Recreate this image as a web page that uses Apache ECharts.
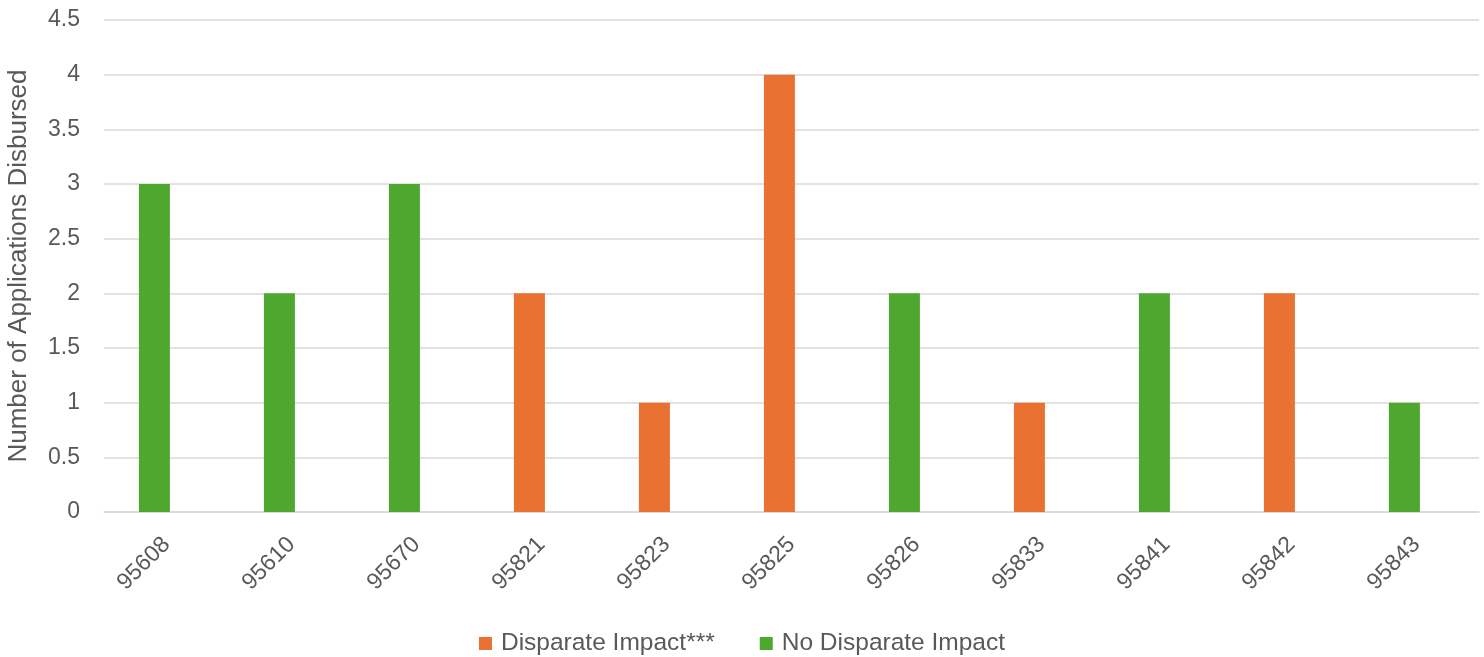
<!DOCTYPE html>
<html>
<head>
<meta charset="utf-8">
<script src="https://cdn.jsdelivr.net/npm/echarts@6/dist/echarts.min.js"></script>
<style>
html,body{margin:0;padding:0;background:#fff;}
#chart{width:1484px;height:657px;}
</style>
</head>
<body>
<div id="chart"></div>
<script>
const categories = ['95608','95610','95670','95821','95823','95825','95826','95833','95841','95842','95843'];
const disparateImpact = [null,null,null,2,1,4,null,1,null,2,null];
const noDisparateImpact = [3,2,3,null,null,null,2,null,2,null,1];
const yTicks = {min:0, max:4.5, interval:0.5};

const chart = echarts.init(document.getElementById('chart'), null, {renderer:'canvas'});
const font = '"Liberation Sans", Arial, sans-serif';
chart.setOption({
  animation:false,
  backgroundColor:'#ffffff',
  grid:{left:104, right:5, top:20, bottom:145, containLabel:false, outerBoundsMode:'none'},
  legend:{
    data:['Disparate Impact***','No Disparate Impact'],
    top:626, left:'center',
    itemWidth:13, itemHeight:13, itemGap:45,
    icon:'rect',
    textStyle:{fontFamily:font, fontSize:24.5, color:'#595959', padding:[0,0,0,4]}
  },
  xAxis:{
    type:'category',
    data:categories,
    axisLine:{show:true, lineStyle:{color:'#D9D9D9', width:1.5}},
    axisTick:{show:false},
    axisLabel:{rotate:45, margin:29, fontFamily:font, fontSize:23, color:'#595959', interval:0}
  },
  yAxis:{
    type:'value',
    min:yTicks.min, max:yTicks.max, interval:yTicks.interval,
    name:'Number of Applications Disbursed',
    nameLocation:'middle', nameGap:72,
    nameTextStyle:{fontFamily:font, fontSize:26, color:'#595959'},
    axisLine:{show:false}, axisTick:{show:false},
    axisLabel:{margin:24, fontFamily:font, fontSize:23, color:'#595959'},
    splitLine:{lineStyle:{color:'#D9D9D9', width:1.5}}
  },
  series:[
    {name:'Disparate Impact***', type:'bar', stack:'s', data:disparateImpact,
     barWidth:31, barGap:'-22%', itemStyle:{color:'#E97132'}},
    {name:'No Disparate Impact', type:'bar', stack:'s', data:noDisparateImpact,
     barWidth:31, barGap:'-22%', itemStyle:{color:'#4EA72E'}},
    {name:'_spacer', type:'bar', data:categories.map(()=>null),
     barWidth:31, barGap:'-22%', itemStyle:{color:'transparent'}}
  ]
});
</script>
</body>
</html>
